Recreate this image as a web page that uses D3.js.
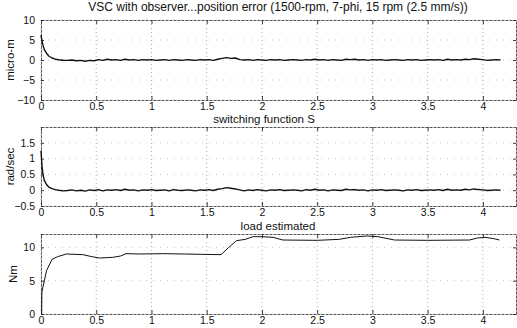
<!DOCTYPE html>
<html>
<head>
<meta charset="utf-8">
<script src="https://cdn.jsdelivr.net/npm/d3@7"></script>
<style>
  html, body { margin: 0; padding: 0; background: #fff; }
  svg { display: block; font-family: "Liberation Sans", Arial, Helvetica, sans-serif; }
  .tick-label { font-size: 10.5px; fill: #111; }
  .title { font-size: 12px; fill: #111; }
  .subtitle { font-size: 11.5px; fill: #111; }
</style>
</head>
<body>
<svg id="chart" width="517" height="328"></svg>
<script>
// ---- data -------------------------------------------------------------
const timeTicks = [0, 0.5, 1, 1.5, 2, 2.5, 3, 3.5, 4];
const timeTickLabels = ["0", "0.5", "1", "1.5", "2", "2.5", "3", "3.5", "4"];

const errTicks = [-10, -5, 0, 5, 10];
const rateTicks = [-0.5, 0, 0.5, 1, 1.5];
const loadTicks = [0, 5, 10];

// start-up transient, seconds
const transientTime = [0, 0.01, 0.02, 0.03, 0.05, 0.07, 0.10, 0.13, 0.16, 0.20];
// position error transient, micro-m
const errTransient = [6.2, 4.6, 3.5, 2.6, 1.7, 1.0, 0.5, 0.2, 0.05, -0.05];
// switching function transient, rad/sec
const rateTransient = [1.25, 0.72, 0.46, 0.31, 0.18, 0.10, 0.05, 0.02, 0.0, -0.02];

// steady part, sampled every 0.04 s starting at 0.24 s
const steadyStart = 0.24, steadyStep = 0.04;
const errSteady = [
  -0.1, 0.0, -0.2, -0.1, -0.3, -0.1, -0.2, 0.1, -0.1, 0.2,
   0.0, 0.1, -0.1, 0.2, 0.0, 0.1, -0.1, 0.1, 0.0, 0.1,
  -0.1, 0.0, 0.1, -0.1, 0.1, 0.0, -0.1, 0.1, 0.0, -0.1,
   0.1, 0.0, 0.1, -0.1, 0.2, 0.4, 0.6, 0.4, 0.5, 0.1,
   0.0, 0.1, -0.1, 0.1, 0.0, -0.1, 0.1, 0.0, 0.1, -0.1,
   0.0, 0.1, 0.0, -0.1, 0.1, 0.0, 0.2, 0.0, 0.1, -0.1,
   0.1, 0.0, -0.1, 0.2, 0.1, 0.2, 0.0, 0.1, -0.1, 0.1,
   0.0, 0.1, -0.1, 0.0, 0.1, 0.0, -0.1, 0.1, 0.0, 0.1,
  -0.1, 0.0, 0.1, 0.0, 0.1, -0.1, 0.2, 0.0, 0.1, 0.0,
   0.2, 0.1, 0.3, 0.2, 0.1, -0.1, 0.0, 0.1, 0.0
];
const rateSteady = [
  -0.01, 0.01, -0.02, 0.0, -0.03, 0.01, -0.01, 0.02, -0.02, 0.01,
   0.0, 0.02, -0.01, 0.03, 0.0, 0.01, -0.02, 0.01, 0.0, 0.02,
  -0.01, 0.0, 0.01, -0.02, 0.02, 0.0, -0.01, 0.01, 0.0, -0.02,
   0.01, 0.0, 0.02, -0.01, 0.03, 0.05, 0.08, 0.06, 0.04, 0.01,
  -0.02, 0.01, -0.01, 0.02, 0.0, -0.02, 0.01, 0.0, 0.02, -0.01,
   0.0, 0.01, 0.0, -0.02, 0.02, 0.0, 0.03, 0.0, 0.01, -0.02,
   0.01, 0.0, -0.01, 0.03, 0.01, 0.02, 0.0, 0.01, -0.02, 0.01,
   0.0, 0.02, -0.01, 0.0, 0.01, 0.0, -0.02, 0.01, 0.0, 0.02,
  -0.01, 0.0, 0.01, 0.0, 0.02, -0.01, 0.03, 0.0, 0.01, 0.0,
   0.03, 0.01, 0.04, 0.02, 0.01, -0.01, 0.0, 0.01, 0.0
];

// estimated load torque, [s, Nm]
const loadTime = [0.006, 0.008, 0.05, 0.10, 0.15, 0.23, 0.38, 0.46, 0.53, 0.65, 0.72, 0.77, 0.90, 1.10, 1.30, 1.45, 1.63, 1.70, 1.77, 1.85, 1.92, 2.00, 2.10, 2.19, 2.50, 2.70, 2.80, 2.95, 3.05, 3.20, 3.50, 3.88, 3.95, 4.02, 4.10, 4.15];
const loadValue = [0.0, 3.3, 6.5, 8.2, 8.6, 9.0, 8.9, 8.6, 8.4, 8.5, 8.7, 9.05, 9.0, 9.05, 9.0, 8.95, 8.9, 10.0, 11.0, 11.2, 11.6, 11.6, 11.5, 11.1, 11.05, 11.2, 11.5, 11.7, 11.6, 11.1, 11.05, 11.1, 11.4, 11.5, 11.3, 11.1];

// ---- helpers ------------------------------------------------------------
function joinSeries(tTimes, tVals, steadyVals) {
  const pts = tTimes.map((t, i) => [t, tVals[i]]);
  steadyVals.forEach((v, i) => pts.push([steadyStart + i * steadyStep, v]));
  return pts;
}
const errSeries = joinSeries(transientTime, errTransient, errSteady);
const rateSeries = joinSeries(transientTime, rateTransient, rateSteady);
const loadSeries = loadTime.map((t, i) => [t, loadValue[i]]);

const svg = d3.select("#chart");
const x = d3.scaleLinear().domain([0, 4.3]).range([41, 516]);

const panels = [
  { title: "VSC with observer...position error (1500-rpm, 7-phi, 15 rpm (2.5 mm/s))", titleClass: "title", titleX: 278, titleY: 11,
    ylabel: "micro-m", ylabelX: 10, domain: [-10, 10], range: [100, 20], ticks: errTicks, data: errSeries, width: 1.4 },
  { title: "switching function S", titleClass: "subtitle", titleX: 264, titleY: 122.5,
    ylabel: "rad/sec", ylabelX: 10, domain: [-0.5, 2], range: [206, 127], ticks: rateTicks, data: rateSeries, width: 1.4 },
  { title: "load estimated", titleClass: "subtitle", titleX: 278, titleY: 229.5,
    ylabel: "Nm", ylabelX: 13, domain: [0, 12], range: [314, 234], ticks: loadTicks, data: loadSeries, width: 1.0 }
];

panels.forEach(p => {
  const y = d3.scaleLinear().domain(p.domain).range(p.range);
  const g = svg.append("g");
  const [x0, x1] = x.range();
  const [yb, yt] = p.range;

  // dotted grid
  g.selectAll(".vgrid").data(timeTicks).join("line")
    .attr("x1", d => x(d)).attr("x2", d => x(d))
    .attr("y1", yt).attr("y2", yb)
    .attr("stroke", "#888").attr("stroke-width", 0.7).attr("stroke-dasharray", "1,3");
  g.selectAll(".hgrid").data(p.ticks).join("line")
    .attr("x1", x0).attr("x2", x1)
    .attr("y1", d => y(d)).attr("y2", d => y(d))
    .attr("stroke", "#aaa").attr("stroke-width", 0.7).attr("stroke-dasharray", "1,6");

  // axes box
  const xAxisB = d3.axisBottom(x).tickValues(timeTicks).tickFormat((d, i) => timeTickLabels[i]).tickSizeInner(-4).tickSizeOuter(0).tickPadding(0);
  const xAxisT = d3.axisTop(x).tickValues(timeTicks).tickFormat("").tickSizeInner(-4).tickSizeOuter(0);
  const yAxisL = d3.axisLeft(y).tickValues(p.ticks).tickSizeInner(-3).tickSizeOuter(0).tickPadding(6).tickFormat(d3.format(""));
  const yAxisR = d3.axisRight(y).tickValues(p.ticks).tickFormat("").tickSizeInner(-3).tickSizeOuter(0);

  const gb = g.append("g").attr("transform", `translate(0,${yb})`).call(xAxisB);
  const gt = g.append("g").attr("transform", `translate(0,${yt})`).call(xAxisT);
  const gl = g.append("g").attr("transform", `translate(${x0},0)`).call(yAxisL);
  const gr = g.append("g").attr("transform", `translate(${x1},0)`).call(yAxisR);
  [gb, gt, gl, gr].forEach(a => {
    a.select(".domain").attr("stroke", "#444").attr("stroke-width", 0.9).attr("stroke-dasharray", "3,1");
    a.selectAll(".tick line").attr("stroke", "#222").attr("stroke-width", 0.9);
    a.selectAll("text").attr("class", "tick-label").attr("font-size", null).attr("font-family", null).attr("fill", null);
  });
  gb.selectAll("text").attr("y", 9.5).attr("dy", null);

  // series
  const line = d3.line().x(d => x(d[0])).y(d => y(d[1]));
  g.append("path").datum(p.data)
    .attr("d", line).attr("fill", "none")
    .attr("stroke", "#111").attr("stroke-width", p.width).attr("stroke-linejoin", "round");

  // titles
  svg.append("text").attr("class", p.titleClass)
    .attr("x", p.titleX).attr("y", p.titleY).attr("text-anchor", "middle").text(p.title);
  svg.append("text").attr("class", "subtitle")
    .attr("transform", `translate(${p.ylabelX},${(yb + yt) / 2}) rotate(-90)`)
    .attr("text-anchor", "middle").attr("dy", "0.35em").text(p.ylabel);
});
</script>
</body>
</html>
